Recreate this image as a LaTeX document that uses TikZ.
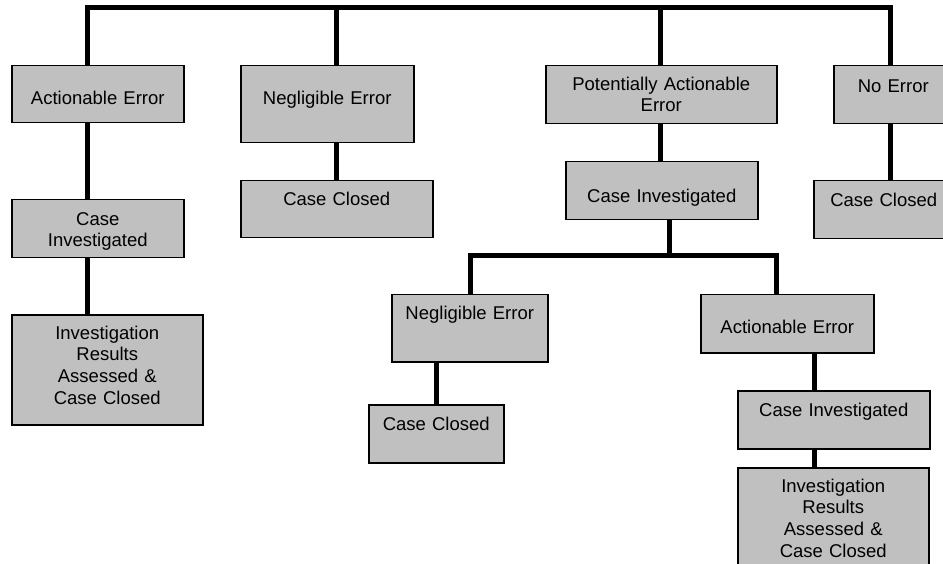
\documentclass[tikz,border=0pt]{standalone}
\usepackage{fontspec}
\setmainfont{Liberation Sans}
\usepackage{tikz}
\definecolor{boxgray}{RGB}{192,192,192}

\begin{document}
\begin{tikzpicture}[x=1pt,y=-1pt,
  box/.style={
   draw,
   fill=boxgray,
   line width=1.5pt,
   inner sep=0pt,
   anchor=north west,
   align=center,
   font=\fontsize{18.5}{21.7}\selectfont
  },
  link/.style={
    line width=5pt,
    line join=miter
  }]
  \clip (0,0) rectangle (943,564);

  % first row
  \node[box,text width=172pt,text height=38.5pt,text depth=18.5pt] at (11,65)
      (ae1) {Actionable Error};
  \node[box,text width=173pt,text height=38.5pt,text depth=38.5pt] at (240,65)
      (ne1) {Negligible Error};
  \node[box,text width=231pt,text height=24.5pt,text depth=33.5pt] at (545,65)
      (pae) {Potentially Actionable\\ Error};
  \node[box,text width=119pt,text height=26.5pt,text depth=31.5pt] at (833,65)
      (noe) {No Error};

  % second row
  \node[box,text width=172pt,text height=25.5pt,text depth=32.5pt] at (11,199)
      (ci2) {Case\\ Investigated};
  \node[box,text width=192pt,text height=24.5pt,text depth=32.5pt] at (240,180)
      (cc1) {Case Closed};
  \node[box,text width=192pt,text height=40.5pt,text depth=17.5pt] at (565,161)
      (ci1) {Case Investigated};
  \node[box,text width=140pt,text height=25.5pt,text depth=32.5pt] at (813,180)
      (cc2) {Case Closed};

  % lower part
  \node[box,text width=191pt,text height=24.5pt,text depth=85.5pt] at (11,314)
      (ir1) {Investigation\\ Results\\ Assessed \&\\ Case Closed};
  \node[box,text width=156pt,text height=24.5pt,text depth=42.5pt] at (391,294)
      (ne2) {Negligible Error};
  \node[box,text width=173pt,text height=38.5pt,text depth=19.5pt] at (700,294)
      (ae2) {Actionable Error};
  \node[box,text width=135pt,text height=25.5pt,text depth=32.5pt] at (368,404)
      (cc3) {Case Closed};
  \node[box,text width=192pt,text height=25.5pt,text depth=32.5pt] at (737,390)
      (ci3) {Case Investigated};
  \node[box,text width=191pt,text height=24.5pt,text depth=85.5pt] at (737,467)
      (ir2) {Investigation\\ Results\\ Assessed \&\\ Case Closed};

  % bars
  \coordinate (top1) at (87,8);
  \coordinate (top2) at (336,8);
  \coordinate (top3) at (660,8);
  \coordinate (top4) at (890,8);
  \coordinate (mid) at (669,256);
  \coordinate (mid1) at (470,256);
  \coordinate (mid2) at (776,256);
  \coordinate (drop) at (814,400);

  \draw[link] (ae1.north -| top1) -- (top1) -- (top4) -- (noe.north -| top4);
  \draw[link] (top2) -- (ne1.north -| top2);
  \draw[link] (top3) -- (pae.north -| top3);

  \draw[link] (ae1.south -| top1) -- (ci2.north -| top1);
  \draw[link] (ci2.south -| top1) -- (ir1.north -| top1);
  \draw[link] (ne1.south -| top2) -- (cc1.north -| top2);
  \draw[link] (pae.south -| top3) -- (ci1.north -| top3);
  \draw[link] (noe.south -| top4) -- (cc2.north -| top4);

  \draw[link] (ci1.south -| mid) -- (mid);
  \draw[link] (ne2.north -| mid1) -- (mid1) -- (mid2) -- (ae2.north -| mid2);
  \draw[link] (cc3.north |- ne2.south) -- (cc3.north);
  \draw[link] (ae2.south -| drop) -- (ci3.north -| drop);
  \draw[link] (ci3.south -| drop) -- (ir2.north -| drop);

\end{tikzpicture}
\end{document}
